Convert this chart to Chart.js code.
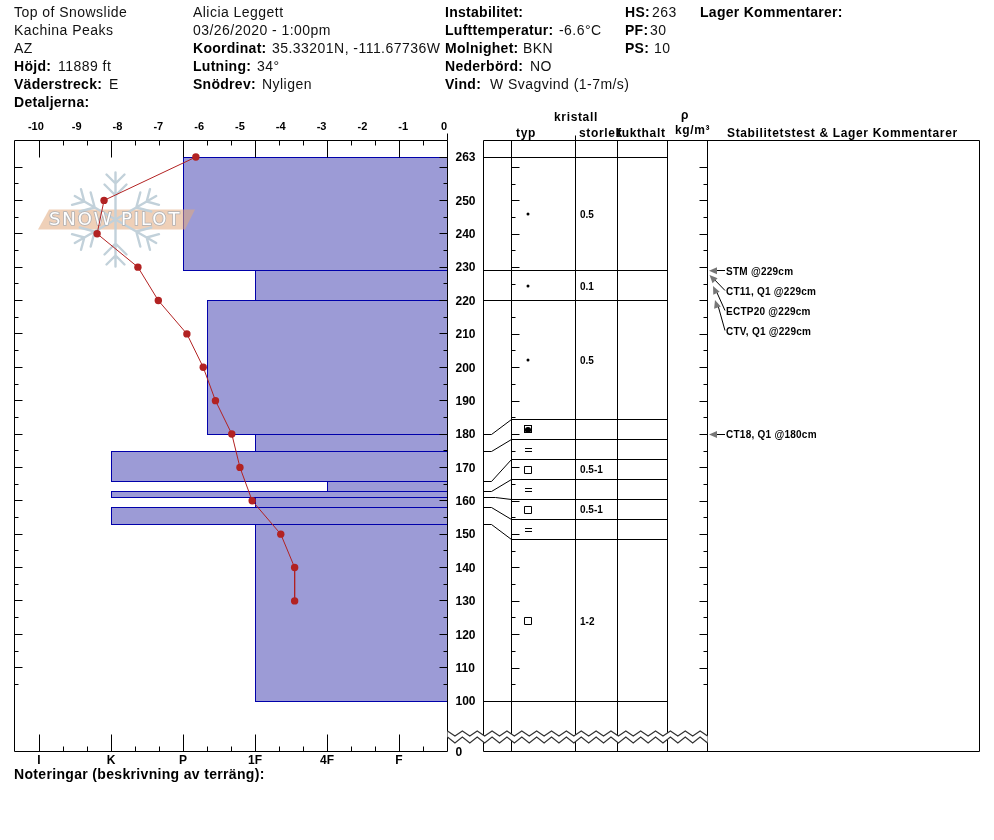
<!DOCTYPE html>
<html><head><meta charset="utf-8">
<script src="https://cdn.jsdelivr.net/npm/chart.js@4"></script>
<style>
html,body{margin:0;padding:0;background:#fff;width:994px;height:840px;overflow:hidden}
#wrap{position:relative;width:994px;height:840px;font-family:"Liberation Sans",Arial,sans-serif;color:#111}
canvas{position:absolute;left:0;top:0}
.t{position:absolute;white-space:nowrap;font-size:14px;line-height:18px;letter-spacing:.46px}
.b{font-weight:bold;color:#000;letter-spacing:.28px}
.h{font-size:12px;font-weight:bold;line-height:14px;color:#000;letter-spacing:.65px}
</style></head><body>
<div id="wrap">
<canvas id="left" width="994" height="840"></canvas>
<canvas id="right" width="994" height="840"></canvas>
</div>
<script>
// ---- data ----
const tempDepths  = [263,250,240,230,220,210,200,190,180,170,160,150,140,130];
const tempValues  = [-6.08,-8.33,-8.5,-7.5,-7.0,-6.3,-5.9,-5.6,-5.2,-5.0,-4.7,-4.0,-3.66,-3.66];
const layerTops   = [263,229,220,180,175,166,163,161,158,153];
const layerBottoms= [229,220,180,175,166,163,161,158,153,100];
const layerHard   = [2,3,2.333,3,1,4,1,3,1,3];
const hardLabels  = ['I','K','P','1F','4F','F'];
const tempTicks   = [-10,-9,-8,-7,-6,-5,-4,-3,-2,-1,0];
const depthTicks  = [263,250,240,230,220,210,200,190,180,170,160,150,140,130,120,110,100,85];
const depthLabels = ['263','250','240','230','220','210','200','190','180','170','160','150','140','130','120','110','100','0'];
const longTicks   = [260,250,240,230,220,210,200,190,180,170,160,150,140,130,120,110];
const shortTicks  = [255,245,235,225,215,205,195,185,175,165,155,145,135,125,115,105];
const fullRows    = [263,229,220,100];
const gridRows    = [184.5,178.5,172.5,166.5,160.5,154.5,148.5];
const realDepths  = [180,175,166,163,161,158,153];
const dotGrain    = [246,224.5,202.3];
const boxGrain    = [169.5,157.5,124];
const eqGrain     = [175.5,163.5,151.5];
const mixGrain    = [181.5];
const sizeDepths  = [246,224.5,202.3,169.5,157.5,124];
const sizeTexts   = ['0.5','0.1','0.5','0.5-1','0.5-1','1-2'];
const testTexts   = ['STM @229cm','CT11, Q1 @229cm','ECTP20 @229cm','CTV, Q1 @229cm','CT18, Q1 @180cm'];
const testDepths  = [229.05,223,217,211,180];
const tipDepths   = [229.05,227.8,224.5,220.3,180];
const tipOffsets  = [709,709.5,713,715,709];
const columns     = [483.5,511.5,575.5,617.5,667.5,707.5,979.5];

// ---- header text ----
const header = [
 [14,0,'','Top of Snowslide'],[14,1,'','Kachina Peaks'],[14,2,'','AZ'],
 [14,3,'Höjd:','11889 ft',58],[14,4,'Väderstreck:','E',109],[14,5,'Detaljerna:',''],
 [193,0,'','Alicia Leggett'],[193,1,'','03/26/2020 - 1:00pm'],
 [193,2,'Koordinat:','35.33201N, -111.67736W',272],[193,3,'Lutning:','34°',257],[193,4,'Snödrev:','Nyligen',262],
 [445,0,'Instabilitet:',''],[445,1,'Lufttemperatur:','-6.6°C',559],[445,2,'Molnighet:','BKN',523],
 [445,3,'Nederbörd:','NO',530],[445,4,'Vind:','W Svagvind (1-7m/s)',490],
 [625,0,'HS:','263',652],[625,1,'PF:','30',650],[625,2,'PS:','10',654],
 [700,0,'Lager Kommentarer:','']
];
const wrap = document.getElementById('wrap');
function addText(x,y,txt,cls,extra){
  const d=document.createElement('div');d.className='t '+cls;d.textContent=txt;
  d.style.left=x+'px';d.style.top=y+'px';if(extra)Object.assign(d.style,extra);wrap.appendChild(d);
}
header.forEach(([x,r,lab,val,vx])=>{
  const y=3+18*r;
  if(lab)addText(x,y,lab,'b');
  if(val)addText(vx||x,y,val,'');
});
addText(14,765,'Noteringar (beskrivning av terräng):','b',{letterSpacing:'.33px'});
[[554,110,'kristall'],[516,126,'typ'],[579,126,'storlek'],[617,126,'fukthalt'],[681,108,'ρ'],[675,123,'kg/m³'],
 [727,126,'Stabilitetstest & Lager Kommentarer']].forEach(([x,y,s])=>addText(x,y,s,'h'));

function drawLine(c,pts){c.beginPath();pts.forEach((p,i)=>i?c.lineTo(p[0],p[1]):c.moveTo(p[0],p[1]));c.stroke();}
function snap(v){return Math.floor(v-0.1)+0.5;}

function drawLogo(c){
  c.save();
  c.fillStyle='rgba(226,170,125,0.55)';
  c.beginPath();c.moveTo(38,229.5);c.lineTo(49,209.5);c.lineTo(195,209.5);c.lineTo(185,229.5);c.closePath();c.fill();
  c.strokeStyle='#c2d1da';c.lineWidth=2.4;c.lineCap='round';
  const cx=115.5,cy=219.5;
  for(let k=0;k<6;k++){
    c.save();c.translate(cx,cy);c.rotate(k*Math.PI/3);
    c.beginPath();c.moveTo(0,0);c.lineTo(0,-47);
    [[-36,9],[-24,11]].forEach(([y,w])=>{c.moveTo(0,y);c.lineTo(-w,y-w);c.moveTo(0,y);c.lineTo(w,y-w);});
    c.stroke();c.restore();
  }
  c.font='18px "DejaVu Sans"';c.textBaseline='middle';c.textAlign='left';
  c.letterSpacing='1.9px';
  c.lineWidth=1.6;c.strokeStyle='rgba(165,172,180,0.85)';c.strokeText('SNOW PILOT',49,220);
  c.fillStyle='#fff';c.fillText('SNOW PILOT',49,220);
  c.restore();
}

const leftPlugin={
  id:'snowLeft',
  afterDatasetsUpdate(chart){
    chart.getSortedVisibleDatasetMetas().forEach(m=>{
      if(m.type!=='bar')return;
      m.data.forEach(el=>{
        const t=Math.round(el.y-el.height/2-0.1),b=Math.round(el.y+el.height/2-0.1)+1;
        el.y=(t+b)/2;el.height=b-t;
      });
    });
  },
  beforeDatasetDraw(chart,args){ if(args.index===0) drawLogo(chart.ctx); },
  afterDraw(chart){
    const c=chart.ctx,a=chart.chartArea,H=chart.scales.xH,Y=chart.scales.y;
    c.save();c.strokeStyle='#000';c.lineWidth=1;
    const L=snap(a.left+0.1),R=snap(a.right-0.4),T=snap(a.top+0.1),B=snap(a.bottom+0.1);
    drawLine(c,[[L,B],[L,T],[R,T],[R,B],[L,B]]);
    drawLine(c,[[R,T-7],[R,T]]);
    for(let k=0;k<6;k++){
      const p=snap(H.getPixelForValue(k)+0.1);
      drawLine(c,[[p,T],[p,T+17]]);drawLine(c,[[p,B],[p,B-17]]);
      [1,2].forEach(j=>{
        if(k===5&&j===2)return;
        const q=snap(H.getPixelForValue(k+j/3)+0.1);
        drawLine(c,[[q,T],[q,T+5]]);drawLine(c,[[q,B],[q,B-5]]);
      });
    }
    const tick=(d,n)=>{const y=snap(Y.getPixelForValue(d)+0.2);drawLine(c,[[L,y],[L+n,y]]);drawLine(c,[[R,y],[R-n,y]]);};
    longTicks.forEach(d=>tick(d,8));shortTicks.forEach(d=>tick(d,4));
    const y263=snap(Y.getPixelForValue(263)+0.2);drawLine(c,[[R,y263],[R-8,y263]]);
    c.restore();
  }
};

const barSets = layerTops.map((top,i)=>({
  type:'bar',xAxisID:'xH',yAxisID:'y',grouped:false,order:2,
  data:[{y:(top+layerBottoms[i])/2,x:[layerHard[i],5.68]}],
  backgroundColor:'#9c9bd6',borderColor:'#0000aa',borderWidth:1,borderSkipped:false,inflateAmount:0,
  barThickness:ctx=>{const s=ctx.chart.scales.y;return Math.abs(s.getPixelForValue(top)-s.getPixelForValue(layerBottoms[i]));}
}));

new Chart(document.getElementById('left'),{
  type:'bar',
  data:{datasets:[{
    type:'line',label:'Temperatur',xAxisID:'xT',yAxisID:'y',order:1,indexAxis:'y',
    data:tempValues.map((v,i)=>({x:v,y:tempDepths[i]})),
    borderColor:'#b22222',backgroundColor:'#b22222',borderWidth:1,pointRadius:3.7,pointBorderWidth:0,tension:0,fill:false
  },...barSets]},
  options:{
    indexAxis:'y',responsive:false,animation:false,devicePixelRatio:1,events:[],
    layout:{padding:{left:14.5,right:0,top:0,bottom:0}},
    plugins:{legend:{display:false},tooltip:{enabled:false}},
    scales:{
      xT:{type:'linear',position:'top',min:-10.524,max:0.0857,
        afterBuildTicks:s=>{s.ticks=tempTicks.map(v=>({value:v}));},
        afterFit:s=>{s.height=140.5;},
        grid:{display:false,drawTicks:false},border:{display:false},
        ticks:{autoSkip:false,maxRotation:0,padding:7,color:'#000',font:{family:'"Liberation Sans"',size:11,weight:'bold'},callback:v=>String(v)}},
      xH:{type:'linear',position:'bottom',min:-0.3403,max:5.6736,
        afterBuildTicks:s=>{s.ticks=hardLabels.map((l,i)=>({value:i}));},
        afterFit:s=>{s.height=88.5;},
        grid:{display:false,drawTicks:false},border:{display:false},
        ticks:{autoSkip:false,maxRotation:0,padding:2,color:'#000',font:{family:'"Liberation Sans"',size:12,weight:'bold'},callback:v=>hardLabels[v]}},
      y:{type:'linear',position:'right',min:84.869,max:267.944,offset:false,
        afterBuildTicks:s=>{s.ticks=depthTicks.map(v=>({value:v===85?84.869:v}));},
        afterFit:s=>{s.width=546.5;},
        grid:{display:false,drawTicks:false,offset:false},border:{display:false},
        ticks:{autoSkip:false,padding:8,labelOffset:1,color:'#000',font:{family:'"Liberation Sans"',size:12,weight:'bold'},
          callback:(v,i)=>depthLabels[i]}}
    }
  },
  plugins:[leftPlugin]
});

// ---- right panel ----
function sprite(w,h,fn){const s=document.createElement('canvas');s.width=w;s.height=h;fn(s.getContext('2d'));return s;}
const eqSprite=sprite(8,4,c=>{c.fillStyle='#000';c.fillRect(1,0,7,1);c.fillRect(1,3,7,1);});
const mixSprite=sprite(8,10,c=>{c.strokeStyle='#000';c.strokeRect(0.5,1.5,7,7);c.fillStyle='#000';c.beginPath();c.arc(4,6,3.1,0,Math.PI*2);c.fill();});
const ink={borderColor:'#000',borderWidth:1,pointRadius:0,tension:0,fill:false,clip:false};
const rowSets=[
  ...fullRows.map(d=>({...ink,data:[{x:columns[0],y:d},{x:columns[4],y:d}]})),
  ...gridRows.map(d=>({...ink,data:[{x:columns[1],y:d},{x:columns[4],y:d}]})),
  ...realDepths.map((d,i)=>({...ink,data:[{x:columns[0],y:d},{x:i===4?495.5:491.5,y:d},{x:columns[1],y:gridRows[i]}]})),
  ...columns.map(x=>({...ink,data:[{x,y:85.02},{x,y:268.09}]}))
];
const sym={showLine:false,clip:false,symbol:true};
const grainSets=[
  {...sym,data:dotGrain.map(y=>({x:528,y})),pointStyle:'circle',pointRadius:1.5,pointBackgroundColor:'#000',pointBorderWidth:0},
  {...sym,data:boxGrain.map(y=>({x:528,y})),pointStyle:'rect',pointRadius:4.95,pointBackgroundColor:'#fff',pointBorderColor:'#000',pointBorderWidth:1},
  {...sym,data:eqGrain.map(y=>({x:528,y})),pointStyle:eqSprite},
  {...sym,data:mixGrain.map(y=>({x:528,y})),pointStyle:mixSprite}
];
const rightPlugin={
  id:'snowRight',
  afterDatasetsUpdate(chart){
    chart.data.datasets.forEach((ds,i)=>{
      const m=chart.getDatasetMeta(i);
      m.data.forEach(el=>{ el.y = ds.symbol ? Math.round(el.y) : snap(el.y); });
    });
  },
  afterDraw(chart){
    const c=chart.ctx,X=chart.scales.x,Y=chart.scales.y;
    c.save();c.strokeStyle='#000';c.lineWidth=1;
    const T=Y.getPixelForValue(268.09),B=Y.getPixelForValue(85.02);
    drawLine(c,[[columns[0],T],[columns[6],T]]);
    drawLine(c,[[columns[0],B],[columns[6],B]]);
    drawLine(c,[[columns[2],T-5],[columns[2],T]]);
    const tick=(d,n)=>{const y=snap(Y.getPixelForValue(d));
      drawLine(c,[[columns[1],y],[columns[1]+n,y]]);drawLine(c,[[columns[5],y],[columns[5]-n,y]]);};
    longTicks.forEach(d=>tick(d,8));shortTicks.forEach(d=>tick(d,4));
    // layer sizes
    c.fillStyle='#000';c.font='bold 10px "Liberation Sans"';c.textBaseline='middle';c.textAlign='left';
    sizeTexts.forEach((s,i)=>c.fillText(s,580,Y.getPixelForValue(sizeDepths[i])+1));
    // stability tests
    c.letterSpacing='.25px';
    testTexts.forEach((s,i)=>{
      const ty=Y.getPixelForValue(testDepths[i]),tx=tipOffsets[i],py=Y.getPixelForValue(tipDepths[i]);
      c.fillStyle='#000';c.fillText(s,726,ty+1);
      c.strokeStyle='#000';drawLine(c,[[725,snap(ty)],[tx+3,snap(py+(ty-py)*3/17)]]);
      const ang=Math.atan2(ty-py,725-tx),ux=Math.cos(ang),uy=Math.sin(ang);
      c.fillStyle='#777';c.beginPath();c.moveTo(tx,py);
      c.lineTo(tx+8*ux-3.5*uy,py+8*uy+3.5*ux);c.lineTo(tx+8*ux+3.5*uy,py+8*uy-3.5*ux);c.closePath();c.fill();
    });
    // axis break
    const top=[],bot=[];
    for(let i=0,x=447.5;x<=707.6;i++,x+=7.43){top.push([x,i%2?736:731]);bot.push([x,i%2?743:737]);}
    c.fillStyle='#fff';c.beginPath();
    top.forEach((p,i)=>i?c.lineTo(p[0],p[1]):c.moveTo(p[0],p[1]));
    bot.slice().reverse().forEach(p=>c.lineTo(p[0],p[1]));c.closePath();c.fill();
    c.strokeStyle='#333';c.lineWidth=1.2;drawLine(c,top);drawLine(c,bot);
    c.restore();
  }
};
new Chart(document.getElementById('right'),{
  type:'line',
  data:{datasets:[...grainSets,...rowSets]},
  options:{
    responsive:false,animation:false,devicePixelRatio:1,events:[],
    layout:{padding:{left:483.5,right:14.5,top:140.5,bottom:88.5}},
    plugins:{legend:{display:false},tooltip:{enabled:false}},
    scales:{
      x:{type:'linear',display:false,min:483.5,max:979.5},
      y:{type:'linear',display:false,min:85.02,max:268.09}
    }
  },
  plugins:[rightPlugin]
});
</script>
</body></html>
